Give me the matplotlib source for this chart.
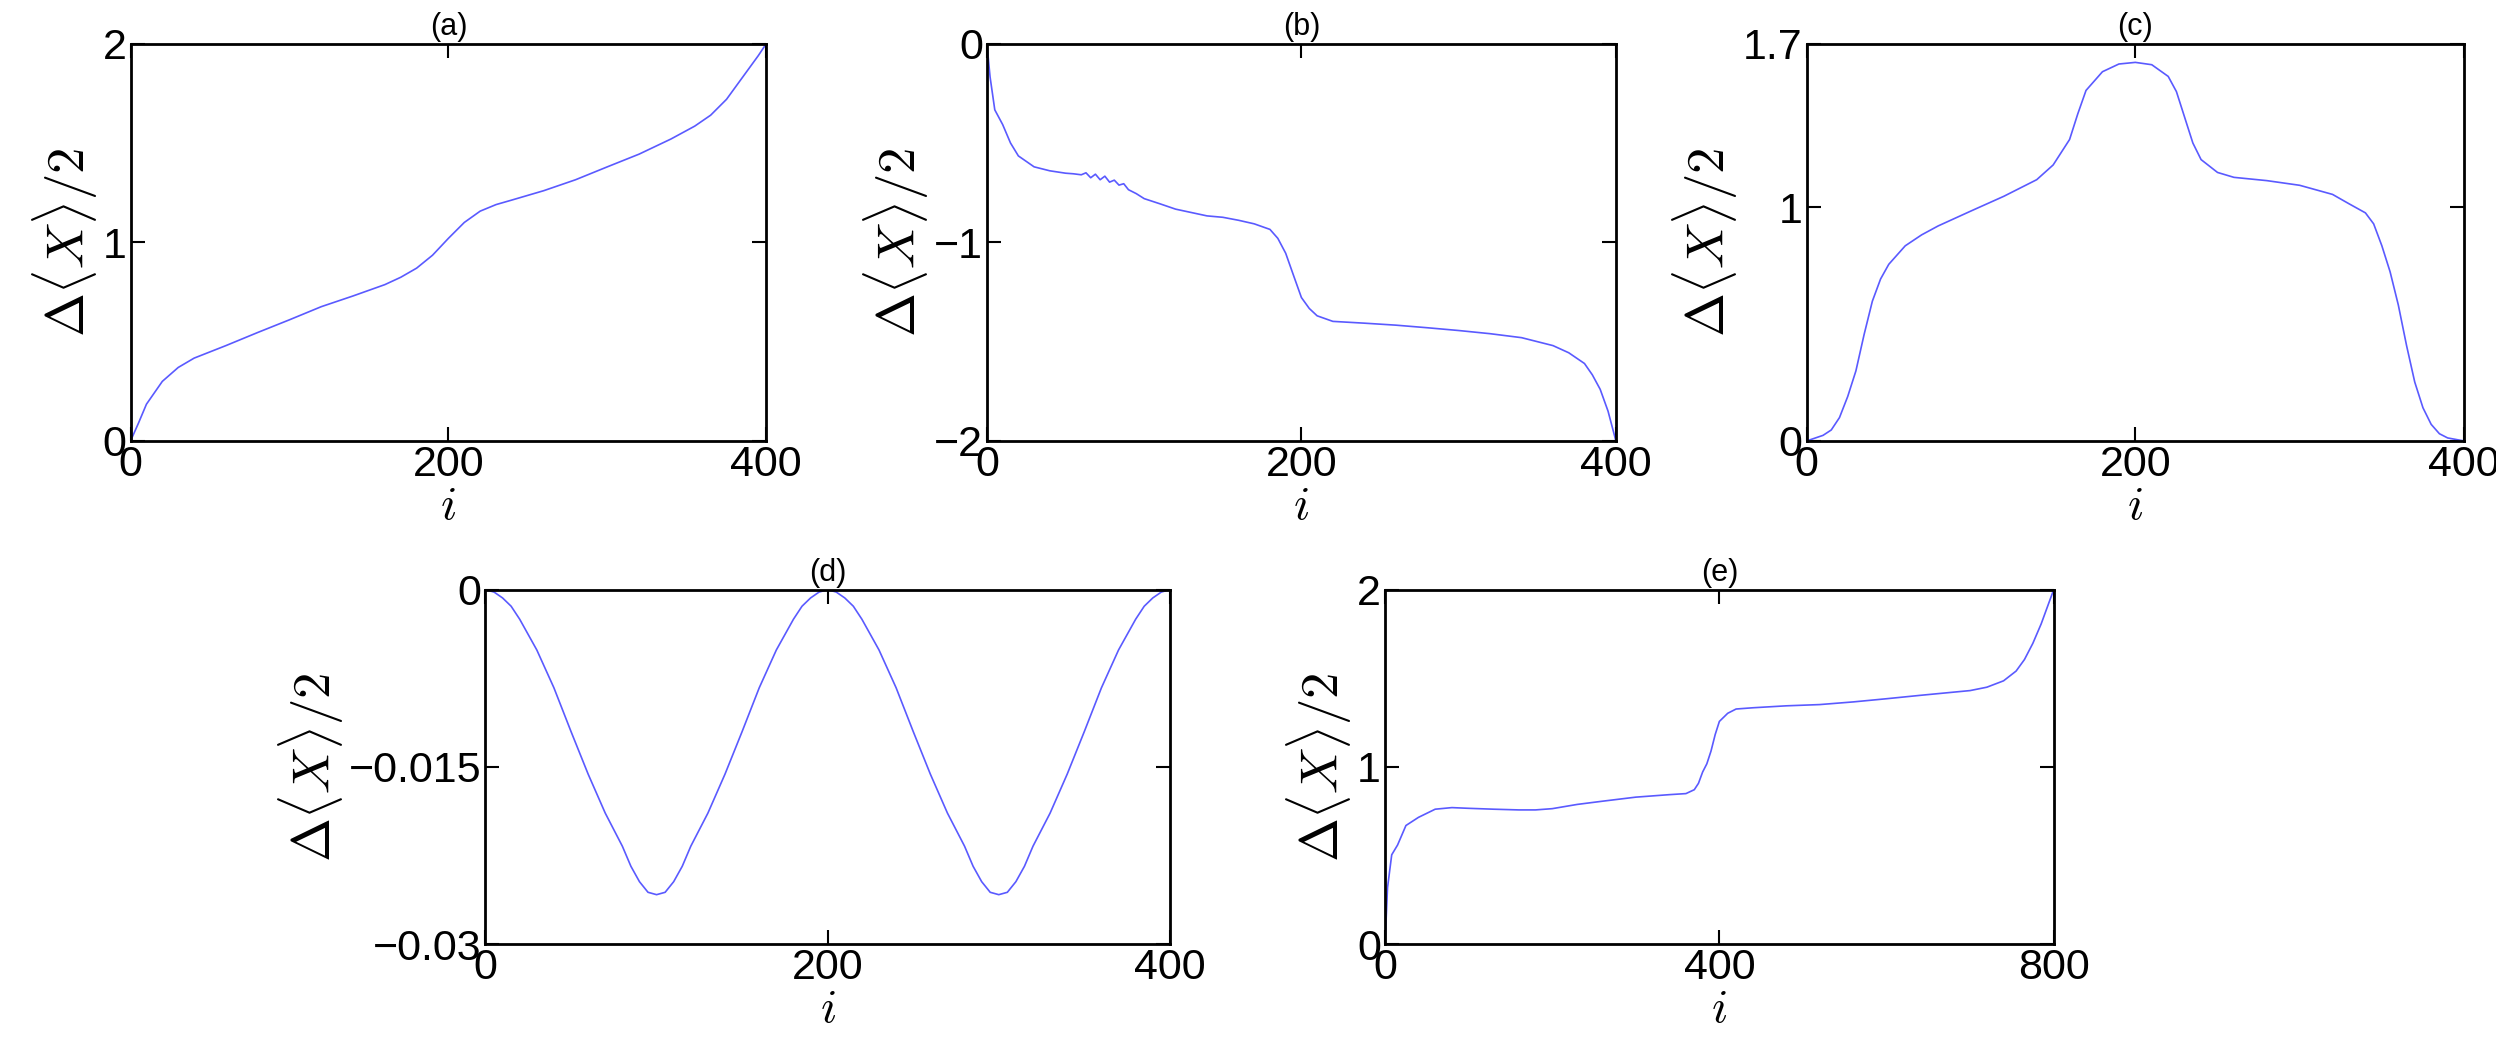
import numpy as np
import matplotlib
matplotlib.use('Agg')
import matplotlib.pyplot as plt

plt.rcParams['font.family'] = ['Liberation Sans Narrow', 'Liberation Sans', 'DejaVu Sans']
plt.rcParams['mathtext.fontset'] = 'cm'

# (a)
xa = [0, 5, 10, 20, 30, 40, 60, 80, 100, 120, 140, 160, 170, 180, 190, 200, 210, 220, 230, 240,
      260, 280, 300, 320, 340, 355, 365, 375, 385, 395, 400]
ya = [0, 0.09, 0.185, 0.30, 0.37, 0.417, 0.48, 0.546, 0.61, 0.676, 0.73, 0.787, 0.824, 0.87, 0.935,
      1.02, 1.10, 1.157, 1.19, 1.213, 1.26, 1.315, 1.38, 1.444, 1.52, 1.585, 1.64, 1.72, 1.83, 1.94, 2.0]

# (b)
xb = [0, 2, 5, 10, 15, 20, 30, 40, 50, 55, 60, 63, 66, 69, 72, 75, 78, 81, 84, 87, 90, 95, 100,
      110, 120, 130, 140, 150, 160, 170, 180, 185, 190, 195, 200, 205, 210, 220, 240, 260, 280,
      300, 320, 340, 350, 360, 370, 380, 385, 390, 395, 400]
yb = [0, -0.167, -0.333, -0.407, -0.5, -0.565, -0.62, -0.64, -0.652, -0.655, -0.66, -0.650, -0.675,
      -0.657, -0.685, -0.667, -0.697, -0.687, -0.712, -0.705, -0.735, -0.755, -0.78,
      -0.806, -0.833, -0.85, -0.867, -0.874, -0.889, -0.907, -0.935, -0.98, -1.055, -1.167, -1.278,
      -1.333, -1.37, -1.398, -1.407, -1.417, -1.43, -1.444, -1.46, -1.48, -1.5, -1.52, -1.556,
      -1.61, -1.667, -1.74, -1.85, -2.0]

# (c)
xc = [0, 10, 15, 20, 25, 30, 35, 40, 45, 50, 60, 70, 80, 100, 120, 140, 150, 160, 165, 170, 180,
      190, 200, 210, 220, 225, 230, 235, 240, 250, 260, 280, 300, 320, 330, 340, 345, 350, 355,
      360, 365, 370, 375, 380, 385, 390, 400]
yc = [0, 0.024, 0.047, 0.10, 0.19, 0.30, 0.456, 0.598, 0.693, 0.756, 0.835, 0.882, 0.92, 0.984,
      1.047, 1.118, 1.181, 1.29, 1.40, 1.50, 1.58, 1.613, 1.62, 1.61, 1.56, 1.495, 1.385, 1.275,
      1.204, 1.149, 1.128, 1.114, 1.094, 1.055, 1.015, 0.976, 0.929, 0.835, 0.724, 0.582, 0.409,
      0.252, 0.142, 0.071, 0.031, 0.013, 0]

# (d)
xd = [0, 5, 10, 15, 20, 30, 40, 50, 60, 70, 80, 85, 90, 95, 100, 105, 110, 115, 120, 130, 140,
      150, 160, 170, 180, 185, 190, 195, 200, 205, 210, 215, 220, 230, 240, 250, 260, 270, 280,
      285, 290, 295, 300, 305, 310, 315, 320, 330, 340, 350, 360, 370, 380, 385, 390, 395, 400]
yd = [0, -0.0002, -0.0007, -0.0014, -0.0025, -0.0051, -0.0083, -0.0120, -0.0156, -0.0189, -0.0217,
      -0.0234, -0.0247, -0.0256, -0.0258, -0.0256, -0.0247, -0.0234, -0.0217, -0.0189, -0.0156,
      -0.0120, -0.0083, -0.0051, -0.0025, -0.0014, -0.0007, -0.0002, 0,
      -0.0002, -0.0007, -0.0014, -0.0025, -0.0051, -0.0083, -0.0120, -0.0156, -0.0189, -0.0217,
      -0.0234, -0.0247, -0.0256, -0.0258, -0.0256, -0.0247, -0.0234, -0.0217, -0.0189, -0.0156,
      -0.0120, -0.0083, -0.0051, -0.0025, -0.0014, -0.0007, -0.0002, 0]

# (e)
xe = [0, 3, 8, 15, 25, 40, 60, 80, 100, 130, 160, 180, 200, 230, 260, 300, 340, 360, 370, 375,
      380, 385, 390, 395, 400, 410, 420, 440, 480, 520, 560, 600, 640, 680, 700, 720, 740, 755,
      765, 775, 785, 795, 800]
ye = [0, 0.32, 0.505, 0.56, 0.67, 0.716, 0.762, 0.771, 0.767, 0.762, 0.758, 0.758, 0.765, 0.789,
      0.807, 0.83, 0.844, 0.85, 0.872, 0.908, 0.972, 1.018, 1.09, 1.183, 1.257, 1.303, 1.327,
      1.334, 1.345, 1.352, 1.367, 1.385, 1.404, 1.422, 1.431, 1.45, 1.486, 1.541, 1.606, 1.697,
      1.807, 1.936, 2.0]

panels = [
    ('(a)', xa, ya, [0.0523, 0.576, 0.2547, 0.382], (0, 400), (0, 2), [0, 200, 400], [0, 1, 2], ['0', '1', '2']),
    ('(b)', xb, yb, [0.3954, 0.576, 0.2520, 0.382], (0, 400), (-2, 0), [0, 200, 400], [-2, -1, 0], ['\u22122', '\u22121', '0']),
    ('(c)', xc, yc, [0.7238, 0.576, 0.2634, 0.382], (0, 400), (0, 1.7), [0, 200, 400], [0, 1, 1.7], ['0', '1', '1.7']),
    ('(d)', xd, yd, [0.1945, 0.092, 0.2742, 0.341], (0, 400), (-0.03, 0), [0, 200, 400], [-0.03, -0.015, 0], ['\u22120.03', '\u22120.015', '0']),
    ('(e)', xe, ye, [0.5549, 0.092, 0.2679, 0.341], (0, 800), (0, 2), [0, 400, 800], [0, 1, 2], ['0', '1', '2']),
]

fig = plt.figure(figsize=(24.96, 10.4), dpi=100)

for title, x, y, rect, xl, yl, xt, yt, ytl in panels:
    ax = fig.add_axes(rect)
    ax.plot(x, y, color='#5a5aff', lw=1.2)
    ax.set_xlim(xl)
    ax.set_ylim(yl)
    ax.set_xticks(xt)
    ax.set_xticklabels([str(v) for v in xt])
    ax.set_yticks(yt)
    ax.set_yticklabels(ytl)
    ax.tick_params(direction='in', top=True, right=True, length=10, width=1.5, labelsize=31, pad=3)
    for s in ax.spines.values():
        s.set_linewidth(2)
    ax.set_title(title, fontsize=22, pad=6)
    ax.set_xlabel('$i$', fontsize=34, labelpad=0)
    ax.set_ylabel(r'$\Delta\langle X\rangle/2$', fontsize=38, labelpad=2)

plt.savefig('out.png', dpi=100)
